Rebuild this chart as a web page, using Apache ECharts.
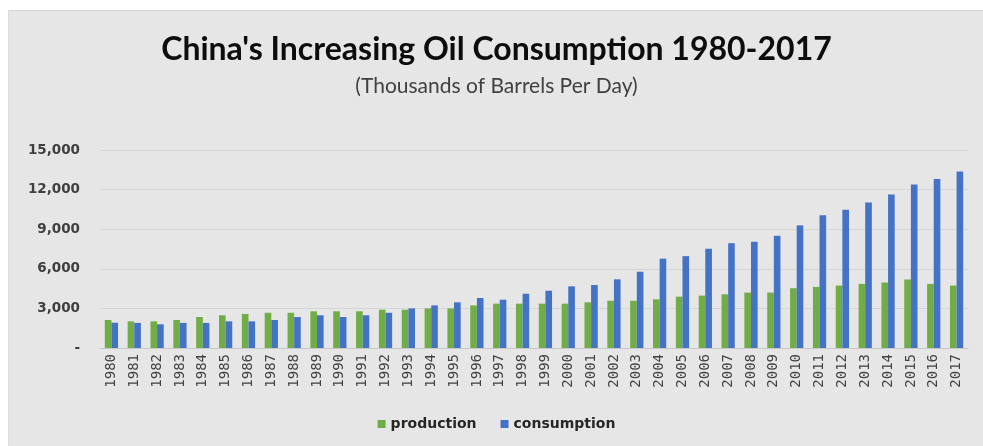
<!DOCTYPE html>
<html>
<head>
<meta charset="utf-8">
<script src="https://cdn.jsdelivr.net/npm/echarts@6/dist/echarts.min.js"></script>
<style>
  html, body { margin: 0; padding: 0; background: #fff; }
  #chart { position: absolute; left: 8px; top: 10px; width: 975px; height: 436px; background: #e7e6e6; border-top: 1px solid #d6d5d5; border-left: 1px solid #dcdbdb; }
</style>
</head>
<body>
<div id="chart"></div>
<script>
var years = ['1980','1981','1982','1983','1984','1985','1986','1987','1988','1989',
    '1990','1991','1992','1993','1994','1995','1996','1997','1998','1999',
    '2000','2001','2002','2003','2004','2005','2006','2007','2008','2009',
    '2010','2011','2012','2013','2014','2015','2016','2017'];
var production = [2120, 2020, 2020, 2120, 2350, 2480, 2580, 2670, 2670, 2780,
    2780, 2780, 2900, 2900, 3000, 3000, 3230, 3360, 3360, 3360,
    3360, 3460, 3580, 3580, 3690, 3890, 3970, 4070, 4200, 4200,
    4530, 4630, 4730, 4860, 4960, 5190, 4860, 4730];
var consumption = [1917, 1900, 1795, 1900, 1900, 2020, 2020, 2120, 2350, 2480,
    2350, 2480, 2670, 3000, 3230, 3460, 3790, 3660, 4110, 4340,
    4670, 4770, 5200, 5780, 6770, 6960, 7520, 7940, 8050, 8500,
    9290, 10050, 10480, 11030, 11620, 12380, 12800, 13370];

var chart = echarts.init(document.getElementById('chart'));
var option = {
    animation: false,
    title: [{
        text: "China's Increasing Oil Consumption 1980-2017",
        left: 'center',
        top: 18,
        textStyle: {
            fontFamily: "Lato, sans-serif",
            fontSize: 32,
            fontWeight: 'bold',
            color: '#0d0d0d'
        }
    }, {
        text: '(Thousands of Barrels Per Day)',
        left: 'center',
        top: 60,
        textStyle: {
            fontFamily: "Lato, sans-serif",
            fontSize: 21,
            fontWeight: 'normal',
            color: '#404040'
        }
    }],
    legend: {
        data: ['production', 'consumption'],
        bottom: 11,
        left: 'center',
        itemWidth: 8,
        itemHeight: 8,
        itemGap: 24,
        icon: 'rect',
        textStyle: {
            fontFamily: 'DejaVu Sans',
            fontSize: 14,
            fontWeight: 'bold',
            color: '#262626'
        }
    },
    grid: {
        left: 91,
        right: 16,
        top: 139,
        bottom: 99
    },
    xAxis: {
        type: 'category',
        data: years,
        axisTick: { show: false },
        axisLine: { lineStyle: { color: '#c8c7c7' } },
        axisLabel: {
            interval: 0,
            rotate: 90,
            margin: 6,
            fontFamily: 'DejaVu Sans Mono',
            fontSize: 14,
            color: '#404040'
        }
    },
    yAxis: {
        type: 'value',
        min: 0,
        max: 15000,
        interval: 3000,
        axisLine: { show: false },
        axisTick: { show: false },
        splitLine: { lineStyle: { color: '#d6d5d5' } },
        axisLabel: {
            margin: 20,
            fontFamily: 'DejaVu Sans',
            fontSize: 13.5,
            fontWeight: 'bold',
            color: '#404040',
            formatter: function (v) {
                return v === 0 ? '-' : v.toLocaleString('en-US');
            }
        }
    },
    series: [{
        name: 'production',
        type: 'bar',
        data: production,
        barGap: '0%',
        barCategoryGap: '42%',
        itemStyle: { color: '#70ad47' }
    }, {
        name: 'consumption',
        type: 'bar',
        data: consumption,
        itemStyle: { color: '#4472c4' }
    }]
};
chart.setOption(option);
</script>
</body>
</html>
